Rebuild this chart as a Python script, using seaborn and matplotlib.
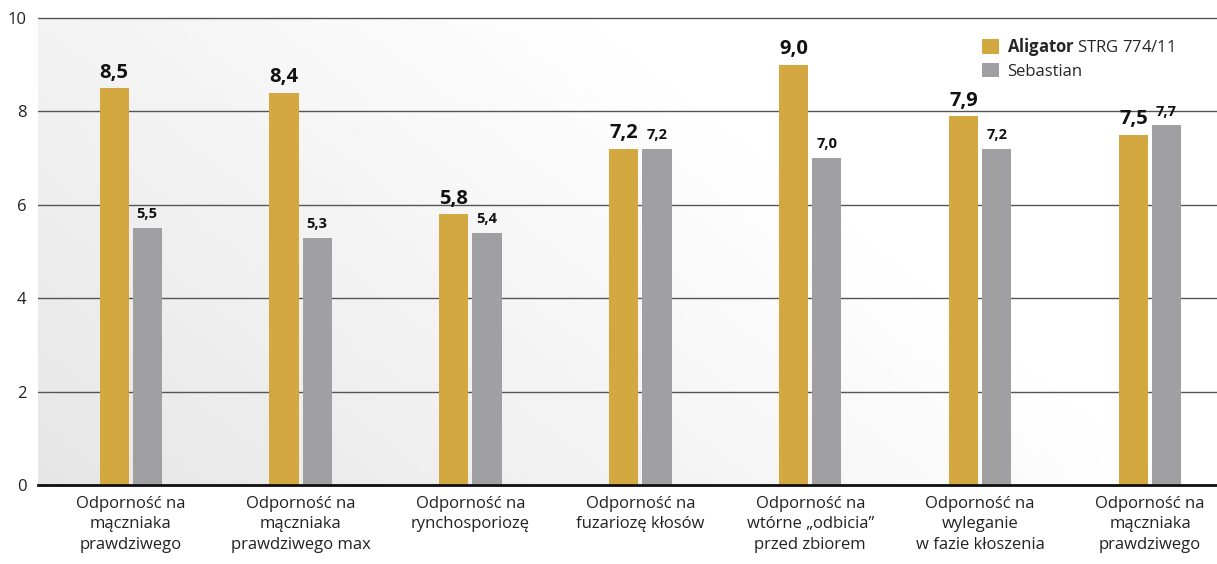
import numpy as np
import pandas as pd
import matplotlib
matplotlib.use("Agg")
import matplotlib.pyplot as plt
import seaborn as sns

# dane z wykresu
kategorie = [
    "Odporność na\nmączniaka\nprawdziwego",
    "Odporność na\nmączniaka\nprawdziwego max",
    "Odporność na\nrynchosporiozę",
    "Odporność na\nfuzariozę kłosów",
    "Odporność na\nwtórne \u201eodbicia\u201d\nprzed zbiorem",
    "Odporność na\nwyleganie\nw fazie kłoszenia",
    "Odporność na\nmączniaka\nprawdziwego",
]
aligator = [8.5, 8.4, 5.8, 7.2, 9.0, 7.9, 7.5]
sebastian = [5.5, 5.3, 5.4, 7.2, 7.0, 7.2, 7.7]
odmiany = ["$\\bf{Aligator}$ STRG 774/11", "Sebastian"]
kolory = ["#D3A840", "#A0A0A2"]
y_ticks = [0, 2, 4, 6, 8, 10]

sns.set_style("white")
plt.rcParams["font.family"] = ["Open Sans", "DejaVu Sans"]
plt.rcParams["mathtext.fontset"] = "custom"
plt.rcParams["mathtext.bf"] = "Open Sans:bold"
plt.rcParams["mathtext.rm"] = "Open Sans"

klucze = [f"k{i}" for i in range(len(kategorie))]
df = pd.DataFrame({
    "kat": klucze * 2,
    "odmiana": [odmiany[0]] * len(klucze) + [odmiany[1]] * len(klucze),
    "wartosc": aligator + sebastian,
})

fig = plt.figure(figsize=(12.17, 5.64), dpi=100)
ax = fig.add_axes([0.031, 0.140, 0.969, 0.828])

# tlo z gradientem
u, v = np.meshgrid(np.linspace(0, 1, 300), np.linspace(0, 1, 200))
g = 0.9 + 0.1 * np.clip((u * 0.9 + v * 0.45) / 0.9, 0, 1)
ax.imshow(g, cmap="gray", vmin=0, vmax=1, origin="lower", extent=[0, 1, 0, 1],
          transform=ax.transAxes, aspect="auto", zorder=0, interpolation="bilinear")

sns.barplot(data=df, x="kat", y="wartosc", hue="odmiana", order=klucze,
            hue_order=odmiany, palette=kolory, width=0.39, gap=0.12,
            saturation=1, linewidth=0, edgecolor="none", ax=ax, zorder=3)

ax.set_xlim(-0.547, 6.394)
ax.set_ylim(0, 10)
ax.set_yticks(y_ticks)
ax.set_yticklabels([str(t) for t in y_ticks], fontsize=12, color="#222222")
ax.set_xticks(range(len(kategorie)))
ax.set_xticklabels(kategorie, fontsize=12, color="#222222", linespacing=1.35)
ax.tick_params(axis="both", length=0)
ax.tick_params(axis="x", pad=8)
ax.tick_params(axis="y", pad=8)
ax.set_xlabel("")
ax.set_ylabel("")

ax.yaxis.grid(True, color="#555555", lw=1, zorder=1)
ax.set_axisbelow(True)
for s in ["left", "right", "top"]:
    ax.spines[s].set_visible(False)
ax.spines["bottom"].set_color("#111111")
ax.spines["bottom"].set_linewidth(2)
ax.spines["bottom"].set_zorder(5)
for line in ax.get_ygridlines():
    line.set_clip_on(False)

# etykiety wartosci
fmt = lambda vals: [f"{x:.1f}".replace(".", ",") for x in vals]
ax.bar_label(ax.containers[0], labels=fmt(aligator), padding=4,
             fontsize=14.5, fontweight="bold", color="#111111")
ax.bar_label(ax.containers[1], labels=fmt(sebastian), padding=5,
             fontsize=10.5, fontweight="bold", color="#111111")

ax.legend(loc="upper left", bbox_to_anchor=(0.795, 0.975), frameon=False,
          fontsize=12, handlelength=1.0, handleheight=1.0, handletextpad=0.5,
          labelspacing=0.25, borderaxespad=0)

fig.savefig("out.png", dpi=100)
